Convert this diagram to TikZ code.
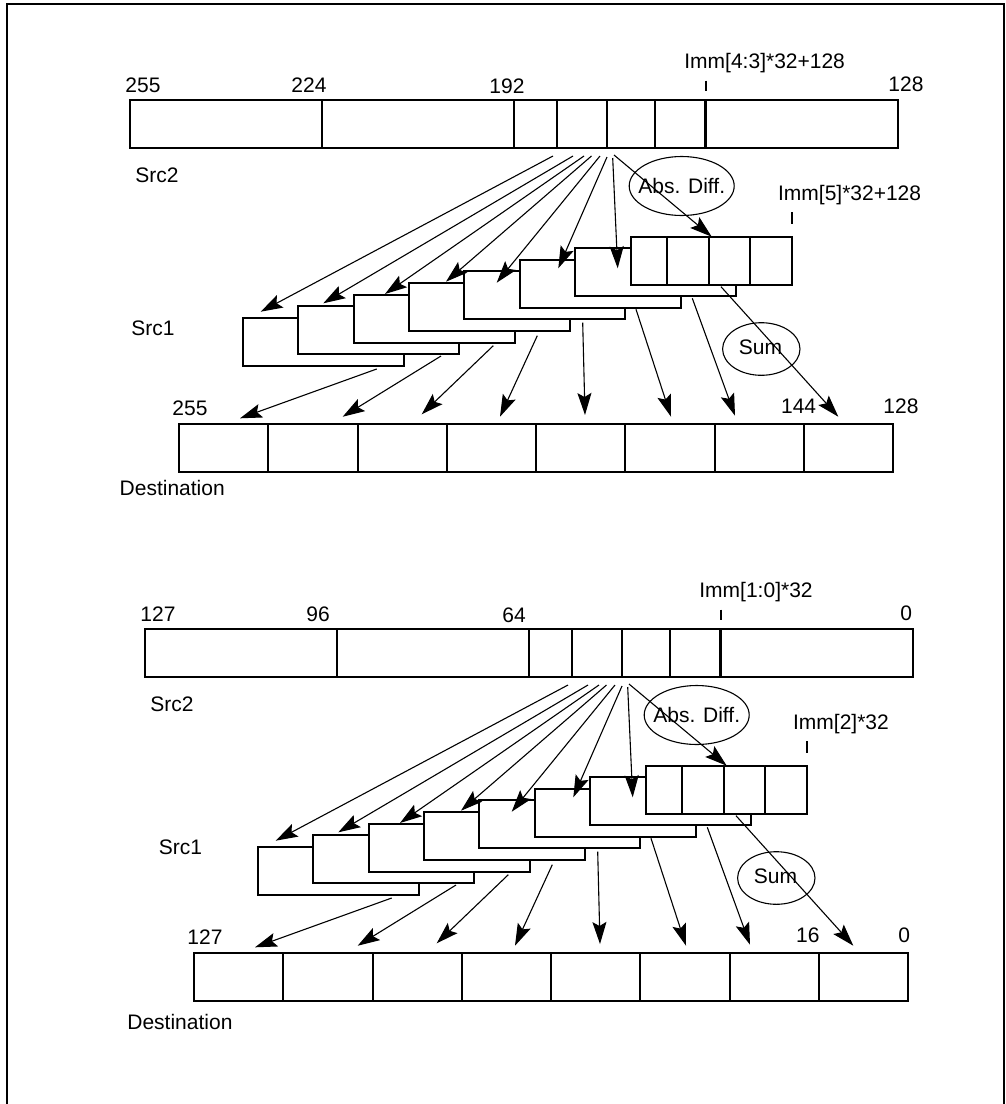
\documentclass[tikz,border=0pt]{standalone}
\usepackage{fontspec}
\setmainfont{Liberation Sans}
\usetikzlibrary{arrows.meta}

\tikzset{
  reg/.style={draw, line width=1pt, fill=white},
  lbl/.style={anchor=base west, inner sep=0pt, font=\fontsize{10.5}{12.6}\selectfont},
  flow/.style={line width=0.55pt, -{Stealth[length=11pt,width=7pt,inset=2pt]}},
}

\begin{document}
\begin{tikzpicture}[x=0.5pt, y=-0.5pt]
        \useasboundingbox (0,0) rectangle (1006,1104);

        % Frame
        \draw[line width=1.1pt] (7,1110) -- (7,4) -- (1004,4) -- (1004,1110);

        % Both halves: upper one, and the lower one shifted
        \foreach \p/\dx/\dy in {a/0/0, b/15/529} {
        \begin{scope}[shift={(\dx,\dy)}]
            % Src2
            \draw[reg] (130,100) rectangle (898,148);
            \draw[reg] (321.7,100) -- (321.7,148);
            \draw[reg, line width=1.3pt] (514,100) rectangle (705.7,148);
            \foreach \x in {557.3,606.7,655} \draw[reg] (\x,100) -- (\x,148);
            \draw[line width=1pt] (705.7,80.7) -- (705.7,90.7);

            % Src1 stack
            \foreach \i in {0,...,7}
                \draw[reg] ({242.7+55.4*\i},{317.7-11.57*\i}) rectangle +(161,48);
            \foreach \x in {666.7,709,749.7} \draw[reg] (\x,236.7) -- (\x,284.7);
            \draw[line width=1pt] (792,212) -- (792,224);

            % Destination
            \draw[reg] (179,424) rectangle (893,472);
            \foreach \i in {1,...,7} \draw[reg] ({179+89.25*\i},424) -- +(0,48);

            % Operations
            \node[lbl, anchor=center] (abs\p) at (681.7,186) {Abs. Diff.};
            \draw[line width=0.55pt] (abs\p.center) ellipse [x radius=52.5, y radius=29.5];
            \node[lbl, anchor=center] (sum\p) at (760.5,347.5) {Sum};
            \draw[line width=0.55pt] (761.3,349) ellipse [x radius=38.7, y radius=26.3];

            % Src2 -> Src1
            \foreach \sx/\sy/\ex/\ey [count=\k] in {553/156/260.7/311.7, 573/156/323.3/303.3,
                584/156/385/294, 591.5/156/446/281.7, 600/156/496.7/282.7,
                607/157/558.3/268.3, 612.7/158/617.7/268.3, 614/155/711.7/236.7} {
                \coordinate (f\p\k) at (\sx,\sy);
                \coordinate (t\p\k) at (\ex,\ey);
                \draw[flow] (f\p\k) -- (t\p\k);
            }

            % Src1 -> Destination
            \foreach \sx/\sy/\ex/\ey [count=\k] in {376.7/369/240/418.3, 441/356/342.7/416.7,
                493.3/345.7/421.7/414.3, 537.3/335.7/500/416.7, 582.7/322.7/585/415,
                636/309.3/671/416.7, 692.3/298.3/735/415.7, 721/286.7/838.3/416.7} {
                \coordinate (u\p\k) at (\sx,\sy);
                \coordinate (d\p\k) at (\ex,\ey);
                \draw[flow] (u\p\k) -- (d\p\k);
            }
        \end{scope}
        }

        % Labels, upper half
        \node[lbl] (hiA) at (125,92.7) {255};
        \node[lbl] (hiB) at (291,92.7) {224};
        \node[lbl] (hiC) at (489,93.5) {192};
        \node[lbl] (hiImm) at (684,68.3) {Imm[4:3]*32+128};
        \node[lbl] (hiD) at (888,91.7) {128};
        \node[lbl] (hiImmB) at (777.7,200.7) {Imm[5]*32+128};
        \node[lbl] (hiSrcB) at (135,182.3) {Src2};
        \node[lbl] (hiSrcA) at (131,335) {Src1};
        \node[lbl] (hiE) at (172,415) {255};
        \node[lbl] (hiDest) at (119.3,495) {Destination};
        \node[lbl] (hiF) at (780.7,413.3) {144};
        \node[lbl] (hiG) at (883,413.3) {128};

        % Labels, lower half
        \begin{scope}[shift={(15,529)}]
            \node[lbl] (loA) at (125,92.7) {127};
            \node[lbl] (loB) at (291,92.7) {96};
            \node[lbl] (loC) at (487,93.5) {64};
            \node[lbl] (loImm) at (684,68.3) {Imm[1:0]*32};
            \node[lbl] (loD) at (885,91.7) {0};
            \node[lbl] (loImmB) at (777.7,200.7) {Imm[2]*32};
            \node[lbl] (loSrcB) at (135,182.3) {Src2};
            \node[lbl] (loSrcA) at (143.5,325) {Src1};
            \node[lbl] (loE) at (172,415) {127};
            \node[lbl] (loDest) at (112,500) {Destination};
            \node[lbl] (loF) at (780.7,413.3) {16};
            \node[lbl] (loG) at (883,413.3) {0};
        \end{scope}

\end{tikzpicture}
\end{document}
